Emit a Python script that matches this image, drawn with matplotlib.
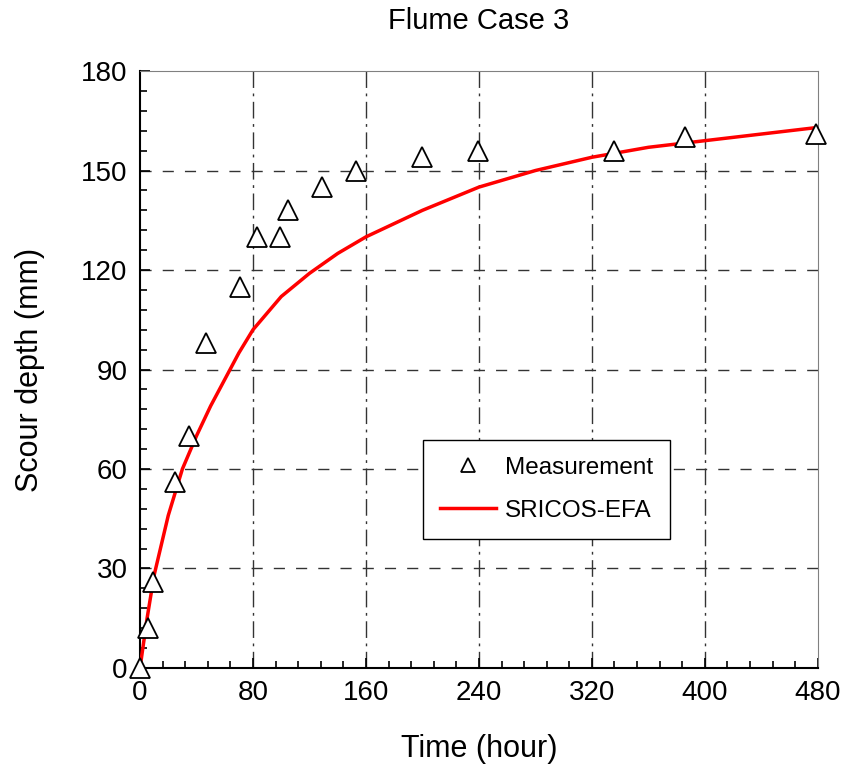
import matplotlib
matplotlib.use("Agg")
import matplotlib.pyplot as plt
from matplotlib.ticker import MultipleLocator

plt.rcParams['font.family'] = ['Liberation Sans', 'DejaVu Sans']

# Measured scour depth
meas_time = [0, 6, 9, 25, 35, 47, 71, 83, 99, 105, 129, 153, 200, 239, 336, 386, 479]
meas_depth = [0, 12, 26, 56, 70, 98, 115, 130, 130, 138, 145, 150, 154, 156, 156, 160, 161]

# SRICOS-EFA prediction
model_time = [0, 5, 10, 20, 30, 40, 50, 60, 70, 80, 100, 120, 140, 160, 180, 200,
              240, 280, 320, 360, 400, 440, 480]
model_depth = [0, 15, 28, 46, 60, 70, 79, 87, 95, 102, 112, 119, 125, 130, 134, 138,
               145, 150, 154, 157, 159, 161, 163]

fig = plt.figure(figsize=(8.42, 7.78), dpi=100)
ax = fig.add_axes([0.1663, 0.1414, 0.805, 0.7673])

ax.plot(model_time, model_depth, color='red', lw=2.5, label='SRICOS-EFA', zorder=3)
ax.plot(meas_time, meas_depth, linestyle='none', marker='^', markersize=14,
        markerfacecolor='white', markeredgecolor='black', markeredgewidth=1.3,
        label='Measurement', zorder=4, clip_on=False)

ax.set_xlim(0, 480)
ax.set_ylim(0, 180)
ax.xaxis.set_major_locator(MultipleLocator(80))
ax.xaxis.set_minor_locator(MultipleLocator(16))
ax.yaxis.set_major_locator(MultipleLocator(30))
ax.yaxis.set_minor_locator(MultipleLocator(6))
ax.tick_params(which='both', direction='in', top=False, right=False,
               labelsize=20, width=1.2, pad=9)
ax.tick_params(which='major', length=7)
ax.tick_params(which='minor', length=5)

for x in range(80, 480, 80):
    ax.axvline(x, color='#333333', lw=1, dashes=(12, 4, 2, 4), zorder=1)
for y in range(30, 180, 30):
    ax.axhline(y, color='#333333', lw=1, dashes=(8, 8), zorder=1)

ax.spines['left'].set_linewidth(1.5)
ax.spines['bottom'].set_linewidth(1.5)
ax.spines['top'].set_color('#808080')
ax.spines['right'].set_color('#808080')

ax.set_xlabel('Time (hour)', fontsize=22, labelpad=20)
ax.set_ylabel('Scour depth (mm)', fontsize=22, labelpad=26)
ax.set_title('Flume Case 3', fontsize=21, pad=30)

handles, labels = ax.get_legend_handles_labels()
leg = ax.legend([handles[1], handles[0]], [labels[1], labels[0]],
                loc='upper left', bbox_to_anchor=(0.417, 0.382), borderaxespad=0,
                fontsize=17.5, fancybox=False, framealpha=1, edgecolor='black',
                handlelength=2.3, handletextpad=0.4, borderpad=0.7,
                labelspacing=0.85, markerscale=0.7)
leg.get_frame().set_linewidth(1.0)

plt.savefig('out.png', dpi=100)
